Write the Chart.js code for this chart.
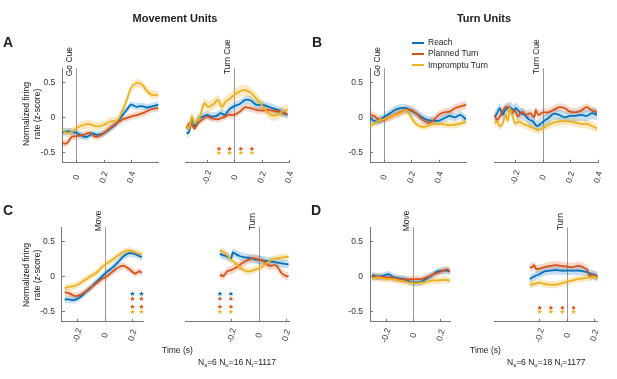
<!DOCTYPE html>
<html>
<head>
<meta charset="utf-8">
<script src="https://cdn.jsdelivr.net/npm/chart.js@4.4.0/dist/chart.umd.min.js"></script>
<style>
body { margin: 0; background: #fff; width: 617px; height: 379px; position: relative; overflow: hidden;
       font-family: "Liberation Sans", Arial, sans-serif; color: #222; }
canvas { position: absolute; }
.t { position: absolute; white-space: nowrap; font-size: 8.5px; z-index: 2; }
.title { font-weight: bold; font-size: 11px; transform: translate(-50%, -50%); }
.letter { font-weight: bold; font-size: 14px; transform: translateY(-50%); }
.ytitle { text-align: center; line-height: 11px; transform: translate(-50%, -50%) rotate(-90deg); }
.sw { position: absolute; width: 12px; height: 2px; z-index: 2; }
sub { font-size: 6px; vertical-align: -2px; }
</style>
</head>
<body>

<div class="t title" style="left:175px; top:17.5px">Movement Units</div>
<div class="t title" style="left:484px; top:17.5px">Turn Units</div>
<div class="t letter" style="left:3px; top:42px">A</div>
<div class="t letter" style="left:312px; top:42px">B</div>
<div class="t letter" style="left:3px; top:209.5px">C</div>
<div class="t letter" style="left:311px; top:209.5px">D</div>
<div class="t ytitle" style="left:31.5px; top:114px">Normalized firing<br>rate (z-score)</div>
<div class="t ytitle" style="left:31.5px; top:275px">Normalized firing<br>rate (z-score)</div>

<div class="sw" style="left:412px; top:41.7px; background:#0072BD"></div>
<div class="sw" style="left:412px; top:53px; background:#D95319"></div>
<div class="sw" style="left:412px; top:64.3px; background:#EDB120"></div>
<div class="t" style="left:428px; top:37px">Reach</div>
<div class="t" style="left:428px; top:48.3px">Planned Turn</div>
<div class="t" style="left:428px; top:59.6px">Impromptu Turn</div>

<div class="t" style="left:162px; top:345px">Time (s)</div>
<div class="t" style="left:470px; top:345px">Time (s)</div>
<div class="t" style="left:198px; top:357px">N<sub>s</sub>=6 N<sub>u</sub>=16 N<sub>t</sub>=1117</div>
<div class="t" style="left:507px; top:357px">N<sub>s</sub>=6 N<sub>u</sub>=18 N<sub>t</sub>=1177</div>

<script>
// series
var seriesNames = ['Reach', 'Planned Turn', 'Impromptu Turn'];
var seriesColors = ['#0072BD', '#D95319', '#EDB120'];
var bandColors = ['rgba(0,114,189,0.22)', 'rgba(217,83,25,0.22)', 'rgba(237,177,32,0.28)'];
var yTicks = [-0.5, 0, 0.5];
var cueTicks = [0, 0.2, 0.4];
var turnTicks = [-0.2, 0, 0.2, 0.4];
var moveTicks = [-0.2, 0, 0.2];

// A, aligned to Go Cue
var aGoReachT = [-0.10,-0.05,0,0.05,0.08,0.12,0.15,0.20,0.25,0.30,0.33,0.37,0.40,0.44,0.48,0.52,0.56,0.60];
var aGoReachV = [-0.21,-0.20,-0.22,-0.27,-0.28,-0.23,-0.25,-0.23,-0.16,-0.08,0.01,0.11,0.18,0.15,0.16,0.14,0.16,0.18];
var aGoPlanT = [-0.10,-0.07,-0.03,0,0.05,0.10,0.12,0.15,0.18,0.22,0.26,0.30,0.34,0.40,0.45,0.50,0.55,0.60];
var aGoPlanV = [-0.37,-0.375,-0.28,-0.27,-0.255,-0.22,-0.255,-0.28,-0.255,-0.20,-0.135,-0.08,-0.03,0.01,0.035,0.07,0.115,0.13];
var aGoImpT = [-0.10,-0.07,-0.03,0,0.05,0.10,0.15,0.20,0.25,0.30,0.33,0.37,0.40,0.44,0.48,0.51,0.55,0.60];
var aGoImpV = [-0.18,-0.22,-0.21,-0.16,-0.11,-0.10,-0.13,-0.11,-0.06,-0.04,0.06,0.25,0.42,0.49,0.47,0.39,0.32,0.32];
var aGoSem = [0.05, 0.05, 0.06];

// A, aligned to Turn Cue
var aTurnReachT = [-0.35,-0.33,-0.31,-0.29,-0.26,-0.23,-0.20,-0.17,-0.13,-0.10,-0.07,-0.04,0,0.04,0.08,0.12,0.16,0.20,0.24,0.28,0.32,0.36,0.39];
var aTurnReachV = [-0.23,-0.21,-0.015,-0.125,-0.015,0.01,0.035,0.01,0.02,0.06,0.035,0.105,0.16,0.19,0.25,0.24,0.18,0.18,0.16,0.13,0.105,0.06,0.035];
var aTurnPlanT = [-0.35,-0.33,-0.31,-0.29,-0.27,-0.24,-0.20,-0.16,-0.12,-0.08,-0.04,0,0.04,0.08,0.12,0.16,0.20,0.24,0.28,0.32,0.36,0.39];
var aTurnPlanV = [-0.16,-0.09,-0.11,-0.16,-0.10,-0.04,0.01,-0.015,-0.03,0.00,0.035,0.035,0.08,0.145,0.13,0.105,0.095,0.105,0.095,0.08,0.07,0.035];
var aTurnImpT = [-0.35,-0.33,-0.31,-0.29,-0.27,-0.25,-0.22,-0.19,-0.15,-0.12,-0.09,-0.06,-0.03,0,0.04,0.08,0.12,0.16,0.20,0.24,0.27,0.31,0.35,0.39];
var aTurnImpV = [-0.11,-0.16,0.01,-0.09,-0.04,0.01,0.20,0.15,0.19,0.25,0.15,0.23,0.27,0.32,0.37,0.39,0.35,0.27,0.18,0.08,0.03,0.03,0.08,0.115];
var aTurnSem = [0.06, 0.05, 0.08];
var aTurnStarT = [-0.113, -0.034, 0.048, 0.128];

// B, aligned to Go Cue
var bGoReachT = [-0.10,-0.07,-0.04,0,0.04,0.08,0.12,0.16,0.20,0.24,0.28,0.32,0.36,0.40,0.44,0.48,0.52,0.56,0.60];
var bGoReachV = [-0.015,-0.05,-0.06,0,0.05,0.105,0.13,0.13,0.095,0.05,0,-0.04,-0.05,-0.05,-0.015,0.02,0,0.035,-0.03];
var bGoPlanT = [-0.10,-0.07,-0.04,0,0.04,0.08,0.12,0.16,0.20,0.24,0.28,0.32,0.36,0.40,0.44,0.48,0.52,0.56,0.60];
var bGoPlanV = [0.035,0.02,-0.03,-0.04,0,0.035,0.07,0.105,0.105,0.05,-0.03,-0.075,-0.05,0.035,0.07,0.08,0.13,0.155,0.18];
var bGoImpT = [-0.10,-0.07,-0.04,0,0.04,0.08,0.12,0.16,0.18,0.22,0.26,0.30,0.34,0.38,0.42,0.46,0.50,0.55,0.60];
var bGoImpV = [-0.125,-0.085,-0.05,-0.03,0,0.035,0.06,0.105,0.07,-0.06,-0.125,-0.135,-0.11,-0.095,-0.095,-0.11,-0.11,-0.095,-0.06];
var bGoSem = [0.06, 0.06, 0.05];

// B, aligned to Turn Cue
var bTurnReachT = [-0.35,-0.33,-0.31,-0.29,-0.27,-0.24,-0.21,-0.19,-0.16,-0.13,-0.10,-0.07,-0.04,-0.01,0.02,0.05,0.08,0.12,0.16,0.20,0.24,0.28,0.32,0.36,0.395];
var bTurnReachV = [0,0.06,0.13,0.035,0.105,0.145,0.105,0.13,0.06,0.035,-0.03,-0.06,-0.125,-0.085,-0.04,0,0.05,0.035,0,0.02,0.02,0.035,0.02,0.06,0.035];
var bTurnPlanT = [-0.35,-0.33,-0.31,-0.29,-0.27,-0.24,-0.22,-0.20,-0.18,-0.15,-0.12,-0.09,-0.06,-0.05,-0.03,0,0.04,0.08,0.12,0.16,0.20,0.24,0.28,0.32,0.36,0.395];
var bTurnPlanV = [0.035,-0.04,0.01,0.08,0.145,0.13,0.06,0.105,0.01,0.08,0.035,0.06,0,0.105,0.035,0.07,0.07,0.105,0.145,0.13,0.08,0.07,0.095,0.145,0.095,0.07];
var bTurnImpT = [-0.35,-0.33,-0.31,-0.29,-0.27,-0.25,-0.24,-0.22,-0.20,-0.17,-0.14,-0.10,-0.06,-0.03,0,0.04,0.08,0.12,0.16,0.20,0.24,0.28,0.32,0.36,0.395];
var bTurnImpV = [-0.085,-0.06,-0.125,-0.095,0.035,-0.05,0.13,0.035,-0.085,-0.06,-0.095,-0.125,-0.16,-0.18,-0.16,-0.11,-0.075,-0.06,-0.05,-0.06,-0.075,-0.095,-0.095,-0.125,-0.16];
var bTurnSem = [0.08, 0.06, 0.06];

// C, aligned to Move
var cMoveReachT = [-0.29,-0.26,-0.22,-0.18,-0.14,-0.10,-0.06,-0.02,0.02,0.06,0.10,0.14,0.18,0.22,0.26,0.27];
var cMoveReachV = [-0.33,-0.33,-0.34,-0.30,-0.23,-0.16,-0.08,-0.005,0.07,0.13,0.21,0.29,0.33,0.32,0.28,0.28];
var cMovePlanT = [-0.29,-0.26,-0.22,-0.18,-0.14,-0.10,-0.06,-0.02,0.02,0.06,0.10,0.14,0.18,0.22,0.25,0.27];
var cMovePlanV = [-0.23,-0.24,-0.28,-0.27,-0.22,-0.16,-0.10,-0.04,0.005,0.07,0.13,0.15,0.10,0.04,0.07,0.05];
var cMoveImpT = [-0.29,-0.26,-0.22,-0.18,-0.14,-0.10,-0.06,-0.02,0.02,0.06,0.10,0.14,0.18,0.22,0.26,0.27];
var cMoveImpV = [-0.17,-0.15,-0.14,-0.10,-0.05,0.005,0.05,0.13,0.19,0.24,0.30,0.35,0.37,0.34,0.32,0.32];
var cMoveSem = [0.05, 0.05, 0.05];
var cMoveStarT = [0.20, 0.267];

// C, aligned to Turn
var cTurnReachT = [-0.285,-0.26,-0.24,-0.22,-0.20,-0.19,-0.17,-0.14,-0.10,-0.06,-0.02,0.02,0.06,0.10,0.14,0.18,0.22];
var cTurnReachV = [0.32,0.30,0.29,0.27,0.26,0.34,0.32,0.29,0.27,0.26,0.24,0.23,0.22,0.21,0.195,0.18,0.17];
var cTurnPlanT = [-0.285,-0.27,-0.26,-0.23,-0.20,-0.16,-0.12,-0.08,-0.04,0,0.04,0.08,0.12,0.14,0.17,0.20,0.22];
var cTurnPlanV = [0,0.02,0,0.07,0.09,0.13,0.19,0.23,0.26,0.24,0.21,0.15,0.16,0.13,0.04,0.005,0];
var cTurnImpT = [-0.285,-0.26,-0.23,-0.20,-0.17,-0.14,-0.11,-0.08,-0.05,-0.02,0.02,0.06,0.10,0.14,0.18,0.22];
var cTurnImpV = [0.37,0.35,0.30,0.23,0.19,0.13,0.09,0.07,0.08,0.10,0.13,0.19,0.24,0.26,0.27,0.28];
var cTurnSem = [0.06, 0.06, 0.05];
var cTurnStarT = [-0.285, -0.204];

// D, aligned to Move
var dMoveReachT = [-0.30,-0.26,-0.22,-0.18,-0.14,-0.10,-0.06,-0.02,0.02,0.06,0.10,0.14,0.18,0.22,0.25,0.27];
var dMoveReachV = [0.02,-0.005,0.005,0.03,-0.015,-0.03,-0.04,-0.08,-0.09,-0.08,-0.03,0.02,0.07,0.08,0.08,0.07];
var dMovePlanT = [-0.30,-0.26,-0.22,-0.18,-0.14,-0.10,-0.06,-0.02,0.02,0.06,0.10,0.14,0.18,0.22,0.25,0.27];
var dMovePlanV = [-0.005,-0.005,-0.015,-0.015,-0.03,-0.04,-0.05,-0.04,-0.04,-0.04,-0.015,0.02,0.05,0.08,0.10,0.07];
var dMoveImpT = [-0.30,-0.26,-0.22,-0.18,-0.14,-0.10,-0.06,-0.02,0.02,0.06,0.10,0.14,0.18,0.22,0.27];
var dMoveImpV = [-0.03,-0.015,-0.03,-0.04,-0.04,-0.06,-0.08,-0.09,-0.10,-0.09,-0.08,-0.06,-0.06,-0.05,-0.06];
var dMoveSem = [0.05, 0.05, 0.05];

// D, aligned to Turn
var dTurnReachT = [-0.27,-0.24,-0.20,-0.16,-0.12,-0.08,-0.04,0,0.04,0.08,0.12,0.16,0.20,0.225];
var dTurnReachV = [-0.04,-0.005,0.03,0.07,0.08,0.09,0.08,0.08,0.08,0.08,0.07,0.05,0.02,0.005];
var dTurnPlanT = [-0.27,-0.25,-0.24,-0.22,-0.20,-0.16,-0.12,-0.08,-0.04,0,0.04,0.08,0.12,0.15,0.17,0.19,0.225];
var dTurnPlanV = [0.13,0.13,0.16,0.10,0.11,0.13,0.15,0.16,0.15,0.14,0.13,0.15,0.13,0.09,-0.005,0.02,-0.015];
var dTurnImpT = [-0.27,-0.24,-0.20,-0.16,-0.12,-0.08,-0.04,0,0.04,0.08,0.12,0.16,0.20,0.225];
var dTurnImpV = [-0.12,-0.11,-0.09,-0.11,-0.12,-0.12,-0.10,-0.08,-0.06,-0.04,-0.03,-0.015,-0.005,-0.03];
var dTurnSem = [0.06, 0.06, 0.05];
var dTurnStarT = [-0.198, -0.115, -0.032, 0.049];

// significance star rows (y value, series index)
var starRows2 = [[-0.45, 1], [-0.515, 2]];
var starRows4 = [[-0.257, 0], [-0.32, 1], [-0.443, 1], [-0.51, 2]];

var axisColor = '#777';
var textColor = '#333';
var fontFamily = '"Liberation Sans", Arial, sans-serif';
var yAxisW = 38, xAxisH = 30;

var panels = [
  {box: [62.25, 68.3, 158.5, 162.8], xr: [-0.1, 0.6], ticks: cueTicks, showY: true, cue: 'Go Cue', cueDy: 8,
   t: [aGoReachT, aGoPlanT, aGoImpT], v: [aGoReachV, aGoPlanV, aGoImpV], sem: aGoSem},
  {box: [185, 68.3, 289, 162.8], xr: [-0.36, 0.4], ticks: turnTicks, showY: false, cue: 'Turn Cue', cueDy: 6,
   t: [aTurnReachT, aTurnPlanT, aTurnImpT], v: [aTurnReachV, aTurnPlanV, aTurnImpV], sem: aTurnSem, starT: aTurnStarT, starRows: starRows2},
  {box: [370, 68.3, 466, 162.8], xr: [-0.1, 0.6], ticks: cueTicks, showY: true, cue: 'Go Cue', cueDy: 8,
   t: [bGoReachT, bGoPlanT, bGoImpT], v: [bGoReachV, bGoPlanV, bGoImpV], sem: bGoSem},
  {box: [494.3, 68.3, 597.7, 162.8], xr: [-0.35, 0.4], ticks: turnTicks, showY: false, cue: 'Turn Cue', cueDy: 6,
   t: [bTurnReachT, bTurnPlanT, bTurnImpT], v: [bTurnReachV, bTurnPlanV, bTurnImpV], sem: bTurnSem},
  {box: [61.9, 227.3, 143.3, 321.8], xr: [-0.31, 0.28], ticks: moveTicks, showY: true, cue: 'Move', cueDy: 4,
   t: [cMoveReachT, cMovePlanT, cMoveImpT], v: [cMoveReachV, cMovePlanV, cMoveImpV], sem: cMoveSem, starT: cMoveStarT, starRows: starRows4},
  {box: [185, 227.3, 289.3, 321.8], xr: [-0.54, 0.225], ticks: moveTicks, showY: false, cue: 'Turn', cueDy: 3,
   t: [cTurnReachT, cTurnPlanT, cTurnImpT], v: [cTurnReachV, cTurnPlanV, cTurnImpV], sem: cTurnSem, starT: cTurnStarT, starRows: starRows4},
  {box: [370, 227.3, 450.7, 321.8], xr: [-0.315, 0.275], ticks: moveTicks, showY: true, cue: 'Move', cueDy: 4,
   t: [dMoveReachT, dMovePlanT, dMoveImpT], v: [dMoveReachV, dMovePlanV, dMoveImpV], sem: dMoveSem},
  {box: [494, 227.3, 597.7, 321.8], xr: [-0.53, 0.225], ticks: moveTicks, showY: false, cue: 'Turn', cueDy: 3,
   t: [dTurnReachT, dTurnPlanT, dTurnImpT], v: [dTurnReachV, dTurnPlanV, dTurnImpV], sem: dTurnSem, starT: dTurnStarT, starRows: starRows2}
];

function fmt(v) {
  return String(Math.round(v * 10) / 10).replace(/^-0$/, '0');
}

//cue line, cue label, x tick labels (rotated about their centre), inward tick marks, star glyphs
var extras = {
  id: 'extras',
  beforeDatasetsDraw: function(chart) {
    var ctx = chart.ctx, area = chart.chartArea;
    var px = Math.round(chart.scales.x.getPixelForValue(0)) + 0.5;
    ctx.save();
    ctx.strokeStyle = '#9a9a9a';
    ctx.lineWidth = 1;
    ctx.beginPath();
    ctx.moveTo(px, area.top);
    ctx.lineTo(px, area.bottom);
    ctx.stroke();
    ctx.restore();
  },
  afterDatasetsDraw: function(chart) {
    var ctx = chart.ctx;
    chart.data.datasets.forEach(function(ds, i) {
      if (!ds.starColor) return;
      var meta = chart.getDatasetMeta(i);
      ctx.save();
      ctx.fillStyle = ds.starColor;
      ctx.font = '7px "DejaVu Sans"';
      ctx.textAlign = 'center';
      ctx.textBaseline = 'middle';
      meta.data.forEach(function(p) { ctx.fillText('\u2605', p.x, p.y); });
      ctx.restore();
    });
  },
  afterDraw: function(chart) {
    var ctx = chart.ctx, area = chart.chartArea, p = chart.options.plugins.extras;
    var xs = chart.scales.x, ys = chart.scales.y;
    ctx.save();
    ctx.strokeStyle = axisColor;
    ctx.lineWidth = 1;
    ctx.beginPath();
    xs.ticks.forEach(function(t) {
      var x = Math.round(xs.getPixelForValue(t.value)) + 0.5;
      ctx.moveTo(x, area.bottom);
      ctx.lineTo(x, area.bottom - 3);
    });
    if (p.showY) {
      ys.ticks.forEach(function(t) {
        var y = Math.round(ys.getPixelForValue(t.value)) + 0.5;
        ctx.moveTo(area.left, y);
        ctx.lineTo(area.left + 3, y);
      });
    }
    ctx.stroke();

    ctx.fillStyle = textColor;
    ctx.font = '8.5px ' + fontFamily;
    ctx.textAlign = 'center';
    ctx.textBaseline = 'middle';
    xs.ticks.forEach(function(t) {
      ctx.save();
      ctx.translate(xs.getPixelForValue(t.value) + 0.5, area.bottom + p.labelDy);
      ctx.rotate(-75 * Math.PI / 180);
      ctx.fillText(fmt(t.value), 0, 0);
      ctx.restore();
    });

    ctx.translate(xs.getPixelForValue(0) - 2, area.top + p.cueDy);
    ctx.rotate(-Math.PI / 2);
    ctx.fillStyle = '#222';
    ctx.textAlign = 'left';
    ctx.textBaseline = 'bottom';
    ctx.fillText(p.cue, 0, 0);
    ctx.restore();
  }
};

panels.forEach(function(pn, n) {
  var b = pn.box;
  var yw = pn.showY ? yAxisW : 0;
  var cl = Math.floor(b[0]) - yw - 14;
  var cw = Math.ceil(b[2]) + 14 - cl;
  var ct = Math.floor(b[1]) - 48;
  var ch = Math.ceil(b[3]) + xAxisH + 4 - ct;
  var cv = document.createElement('canvas');
  cv.width = cw; cv.height = ch;
  cv.style.left = cl + 'px'; cv.style.top = ct + 'px';
  cv.style.width = cw + 'px'; cv.style.height = ch + 'px';
  document.body.appendChild(cv);

  var datasets = [];
  for (var k = 0; k < 3; k++) {
    var tt = pn.t[k], vv = pn.v[k], s = pn.sem[k];
    datasets.push({
      data: vv.map(function(y, i) { return {x: tt[i], y: y + s}; }),
      borderWidth: 0, pointRadius: 0, fill: '+1', backgroundColor: bandColors[k], order: 10
    });
    datasets.push({
      data: vv.map(function(y, i) { return {x: tt[i], y: y - s}; }),
      borderWidth: 0, pointRadius: 0, fill: false, order: 10
    });
  }
  for (var k = 2; k >= 0; k--) {
    var tt = pn.t[k], vv = pn.v[k];
    datasets.push({
      label: seriesNames[k],
      data: vv.map(function(y, i) { return {x: tt[i], y: y}; }),
      borderColor: seriesColors[k], borderWidth: 1.8, pointRadius: 0, fill: false, tension: 0.3, order: 1
    });
  }
  if (pn.starT) {
    pn.starRows.forEach(function(r) {
      datasets.push({
        data: pn.starT.map(function(x) { return {x: x, y: r[0]}; }),
        showLine: false, pointRadius: 0, starColor: seriesColors[r[1]], order: 0
      });
    });
  }

  new Chart(cv, {
    type: 'line',
    data: {datasets: datasets},
    options: {
      responsive: false, animation: false, devicePixelRatio: 1, events: [],
      layout: {padding: {left: b[0] - yw - cl, right: cl + cw - b[2], top: b[1] - ct, bottom: ct + ch - b[3] - xAxisH}},
      plugins: {legend: {display: false}, tooltip: {enabled: false},
        extras: {cue: pn.cue, cueDy: pn.cueDy, showY: pn.showY, labelDy: n < 4 ? 14.5 : 13.5}},
      scales: {
        x: {
          type: 'linear', min: pn.xr[0], max: pn.xr[1],
          afterBuildTicks: function(s) { s.ticks = pn.ticks.map(function(v) { return {value: v}; }); },
          afterFit: function(s) { s.height = xAxisH; },
          grid: {display: false, drawTicks: false},
          border: {display: true, color: axisColor, width: 1},
          ticks: {display: false}
        },
        y: {
          min: -0.65, max: 0.7, display: pn.showY,
          afterBuildTicks: function(s) { s.ticks = yTicks.map(function(v) { return {value: v}; }); },
          afterFit: function(s) { s.width = yw; },
          grid: {display: false, drawTicks: false},
          border: {display: true, color: axisColor, width: 1},
          ticks: {padding: 7, color: textColor, font: {size: 8.5, family: fontFamily},
                  callback: function(v) { return fmt(v); }}
        }
      }
    },
    plugins: [extras]
  });
});
</script>
</body>
</html>
